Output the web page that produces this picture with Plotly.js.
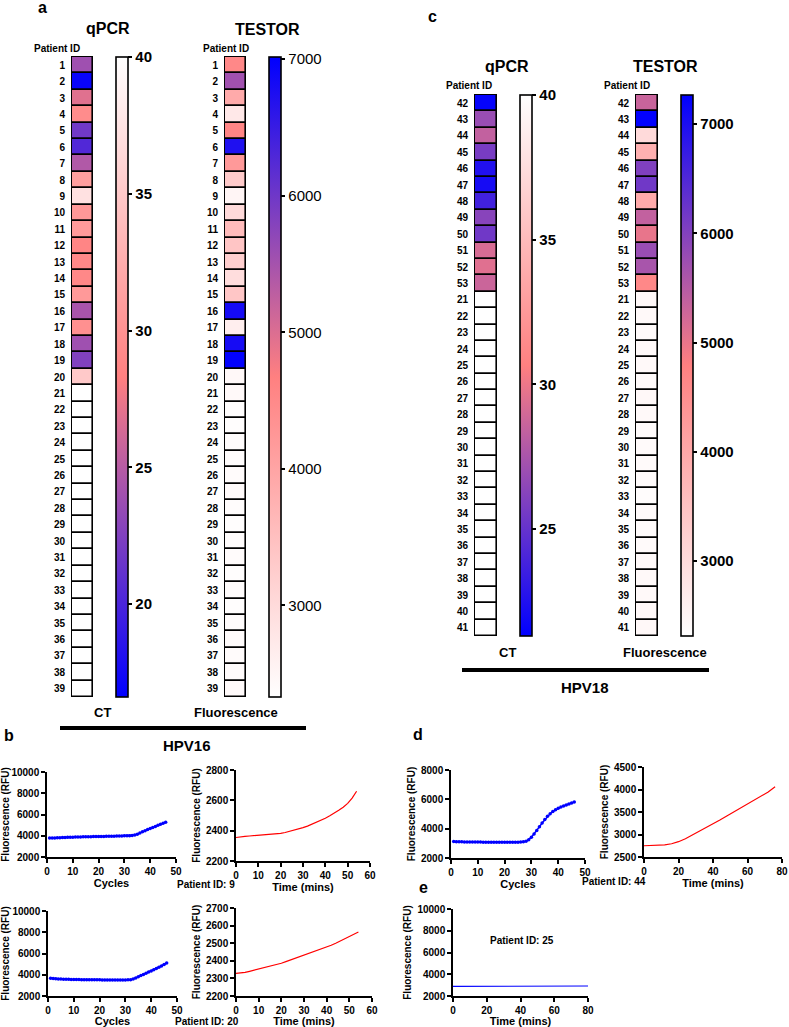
<!DOCTYPE html>
<html><head><meta charset="utf-8">
<script src="https://cdn.plot.ly/plotly-3.0.1.min.js"></script>
<style>html,body{margin:0;padding:0;background:#fff}#chart{width:789px;height:1027px}</style>
</head><body><div id="chart"></div><script>
const W = 789, H = 1027;

// ---- Data: heat map columns ----
const hpv16Ids = ['1','2','3','4','5','6','7','8','9','10','11','12','13','14','15','16','17','18','19','20',
  '21','22','23','24','25','26','27','28','29','30','31','32','33','34','35','36','37','38','39'];
const hpv16Ct = [23.9, 17.0, 26.9, 29.4, 21.8, 20.3, 24.7, 31.2, 37.2, 30.5, 30.7, 28.8, 29.0, 29.0, 30.6, 24.3, 29.8, 23.9, 22.5, 35.0,
  null, null, null, null, null, null, null, null, null, null, null, null, null, null, null, null, null, null, null];
const hpv16Fluor = [4530, 5540, 3900, 2750, 4580, 6730, 4205, 3310, 2520, 3015, 3585, 3400, 3220, 2960, 3380, 6825, 2645, 6810, 7000, 2450,
  2440, 2360, 2370, 2380, 2390, 2400, 2420, 2380, 2370, 2390, 2400, 2360, 2380, 2370, 2390, 2400, 2410, 2400, 2430];

const hpv18Ids = ['42','43','44','45','46','47','48','49','50','51','52','53',
  '21','22','23','24','25','26','27','28','29','30','31','32','33','34','35','36','37','38','39','40','41'];
const hpv18Ct = [21.5, 26.9, 28.4, 25.7, 22.5, 22.1, 23.7, 26.3, 25.4, 29.2, 29.5, 28.7,
  null, null, null, null, null, null, null, null, null, null, null, null, null, null, null, null, null, null, null, null, null];
const hpv18Fluor = [5325, 7250, 3035, 3850, 6025, 6175, 3975, 5385, 5010, 5780, 5630, 4640,
  2450, 2440, 2420, 2430, 2440, 2420, 2450, 2430, 2400, 2420, 2410, 2400, 2380, 2410, 2400, 2420, 2430, 2440, 2430, 2450, 2460];

// colour bar ranges
const ctRange16 = [16.6, 40], fluorRange16 = [2330, 7015];
const ctRange18 = [21.3, 40], fluorRange18 = [2315, 7265];
const ctTicks = [20, 25, 30, 35, 40];
const fluorTicks = [3000, 4000, 5000, 6000, 7000];

// ---- Data: amplification curves ----
const cycles = [1,2,3,4,5,6,7,8,9,10,11,12,13,14,15,16,17,18,19,20,21,22,23,24,25,26,27,28,29,30,
  31,32,33,34,35,36,37,38,39,40,41,42,43,44,45,46];
const pid9Qpcr = [3780,3790,3800,3810,3820,3830,3840,3850,3860,3870,3875,3880,3890,3895,3900,3910,3915,3920,3925,3930,
  3935,3940,3945,3950,3955,3960,3965,3970,3980,3990,4000,4010,4030,4070,4150,4260,4370,4480,4580,4680,4780,4880,4980,5080,5180,5280];
const pid20Qpcr = [3660,3640,3620,3600,3590,3580,3570,3565,3560,3555,3550,3545,3540,3535,3530,3528,3525,3522,3520,3518,
  3516,3515,3514,3513,3512,3511,3510,3510,3510,3512,3520,3540,3600,3700,3810,3920,4030,4140,4250,4360,4470,4590,4710,4830,4960,5100];
const pid44Qpcr = [3120,3110,3105,3100,3095,3090,3088,3086,3085,3084,3083,3082,3081,3080,3080,3079,3078,3078,3077,3077,
  3076,3076,3077,3078,3082,3090,3110,3150,3250,3420,3640,3880,4130,4380,4620,4840,5020,5170,5290,5390,5470,5550,5620,5690,5750,5820];

const minsB = [0,2,4,6,8,10,12,14,16,18,20,22,24,26,28,30,32,34,36,38,40,42,44,46,48,50,52,54];
const pid9Testor = [2355,2360,2362,2365,2367,2368,2370,2374,2378,2380,2382,2388,2395,2402,2410,2420,2430,2442,2455,2468,
  2482,2498,2515,2535,2555,2580,2615,2660];
const pid20Testor = [2328,2330,2334,2340,2346,2352,2358,2366,2374,2380,2386,2395,2404,2413,2422,2431,2440,2449,2458,2467,
  2477,2488,2500,2512,2524,2538,2550,2564];
const minsD = [0,4,8,12,16,20,24,28,32,36,40,44,48,52,56,60,64,68,72,76];
const pid44Testor = [2750,2752,2757,2768,2795,2840,2905,2985,3070,3150,3235,3320,3410,3500,3590,3675,3765,3855,3945,4060];
const minsE = [0,10,20,30,40,50,60,70,80];
const pid25Testor = [2880,2885,2890,2895,2900,2905,2910,2915,2920];

// ---- Helpers ----
const FONT = 'Liberation Sans, Arial, Helvetica, sans-serif';
const ctScale = [[0,[0,0,255]],[0.5,[255,128,128]],[1,[255,255,255]]];
const fluorScale = [[0,[255,255,255]],[0.5,[255,128,128]],[1,[0,0,255]]];
function plotlyScale(s){ return s.map(([t,c]) => [t, 'rgb('+c.join(',')+')']); }
function colourOf(scale, range, v){
  if(v === null) return '#ffffff';
  const t = Math.min(1, Math.max(0, (v-range[0])/(range[1]-range[0])));
  for(let i=1;i<scale.length;i++){
    if(t <= scale[i][0]){
      const [t0,c0] = scale[i-1], [t1,c1] = scale[i];
      const f = (t-t0)/(t1-t0);
      return 'rgb('+c0.map((c,k)=>Math.round(c+(c1[k]-c)*f)).join(',')+')';
    }
  }
  return 'rgb('+scale[scale.length-1][1].join(',')+')';
}
const px = x => x/W;
const py = y => 1 - y/H;

const traces = [];
const layout = {
  width: W, height: H, margin: {l:0, r:0, t:0, b:0},
  paper_bgcolor: '#fff', plot_bgcolor: 'rgba(0,0,0,0)',
  showlegend: false, barmode: 'overlay', bargap: 0,
  font: {family: FONT, color: '#000'},
  annotations: [], shapes: []
};

// one heat map column + its colour bar
function heatColumn(n, ids, vals, scale, range, box, bar, ticks, boldTicks, name){
  const xa = n === 1 ? 'x' : 'x'+n, ya = n === 1 ? 'y' : 'y'+n;
  traces.push({
    type: 'bar', orientation: 'h', xaxis: xa, yaxis: ya,
    y: ids, x: ids.map(() => 1), base: 0, width: 1,
    marker: {color: vals.map(v => colourOf(scale, range, v)), line: {color: '#000', width: 1.6}},
    text: vals.map(v => v === null ? 'n/a' : String(v)), textposition: 'none',
    hovertemplate: 'Patient %{y}<br>'+name+': %{text}<extra></extra>'
  });
  traces.push({
    type: 'scatter', mode: 'markers', xaxis: xa, yaxis: ya, x: [null], y: [null], hoverinfo: 'skip',
    marker: {color: range, cmin: range[0], cmax: range[1], colorscale: plotlyScale(scale), showscale: true,
      colorbar: {x: px(bar.x), xanchor: 'left', xpad: 0, y: py(bar.top), yanchor: 'top', ypad: 0,
        len: bar.len, lenmode: 'pixels', thickness: 12, outlinewidth: 1.6, outlinecolor: '#000',
        tickvals: ticks, tickformat: 'd', ticks: 'outside', ticklen: 4, tickwidth: 1.5, tickcolor: '#000',
        tickfont: {family: FONT, size: 15, weight: boldTicks ? 'bold' : 'normal', color: '#000'}}}
  });
  const e = 0.06;
  layout[n === 1 ? 'xaxis' : 'xaxis'+n] = {domain: [px(box.l), px(box.r)], anchor: ya, range: [-e, 1+e], visible: false, fixedrange: true};
  layout[n === 1 ? 'yaxis' : 'yaxis'+n] = {domain: [py(box.b), py(box.t)], anchor: xa, type: 'category',
    categoryorder: 'array', categoryarray: ids, range: [ids.length-0.5+e, -0.5-e],
    showgrid: false, zeroline: false, showline: false, ticks: '', ticklabelstandoff: 5,
    tickfont: {family: FONT, size: 10, weight: 'bold', color: '#000'}, fixedrange: true};
}

heatColumn(1, hpv16Ids, hpv16Ct, ctScale, ctRange16, {l:71, r:94, t:56, b:698}, {x:116, top:57, len:640}, ctTicks, true, 'CT');
heatColumn(2, hpv16Ids, hpv16Fluor, fluorScale, fluorRange16, {l:224, r:247, t:56, b:698}, {x:269, top:57, len:640}, fluorTicks, false, 'Fluorescence');
heatColumn(3, hpv18Ids, hpv18Ct, ctScale, ctRange18, {l:474, r:498, t:94, b:637}, {x:520, top:95, len:541}, ctTicks, true, 'CT');
heatColumn(4, hpv18Ids, hpv18Fluor, fluorScale, fluorRange18, {l:635, r:659, t:94, b:637}, {x:681, top:95, len:541}, fluorTicks, true, 'Fluorescence');

// text labels
const axFont = {family: FONT, size: 10, weight: 'bold', color: '#000'};
function label(text, x, y, size){
  layout.annotations.push({text: text, x: px(x), y: py(y), xref: 'paper', yref: 'paper', showarrow: false,
    xanchor: 'center', yanchor: 'middle', font: {family: FONT, size: size, weight: 'bold', color: '#000'}});
}

// small line charts
function lineChart(n, box, xs, ys, kind, xr, xdt, yr, ydt, xTitle){
  const xa = 'x'+n, ya = 'y'+n;
  const common = {showline: true, linecolor: '#000', linewidth: 1.5, ticks: 'outside', ticklen: 4, tickwidth: 1.5,
    tickcolor: '#000', showgrid: false, zeroline: false, tickfont: axFont, tickformat: 'd', fixedrange: true};
  layout['xaxis'+n] = Object.assign({domain: [px(box.l), px(box.r)], anchor: ya, range: xr, dtick: xdt,
    title: {text: xTitle, standoff: 0, font: {family: FONT, size: 11, weight: 'bold', color: '#000'}}}, common);
  layout['yaxis'+n] = Object.assign({domain: [py(box.b), py(box.t)], anchor: xa, range: yr, dtick: ydt,
    title: {text: 'Fluorescence (RFU)', standoff: 4, font: axFont}}, common);
  const t = {type: 'scatter', xaxis: xa, yaxis: ya, x: xs, y: ys, cliponaxis: false};
  if(kind === 'qpcr') Object.assign(t, {mode: 'lines+markers', line: {color: '#0000ff', width: 1.5}, marker: {color: '#0000ff', size: 3.5}});
  else if(kind === 'testor') Object.assign(t, {mode: 'lines', line: {color: '#ff0000', width: 1.2}});
  else Object.assign(t, {mode: 'lines', line: {color: '#0000ff', width: 1.2}});
  traces.push(t);
}

lineChart(5, {l:47, r:176, t:772, b:857}, cycles, pid9Qpcr, 'qpcr', [0,50], 10, [2000,10000], 2000, 'Cycles');
lineChart(6, {l:236, r:370, t:770, b:861}, minsB, pid9Testor, 'testor', [0,60], 10, [2200,2800], 200, 'Time (mins)');
lineChart(7, {l:48, r:177, t:911, b:996}, cycles, pid20Qpcr, 'qpcr', [0,50], 10, [2000,10000], 2000, 'Cycles');
lineChart(8, {l:236, r:372, t:908, b:996}, minsB, pid20Testor, 'testor', [0,60], 10, [2200,2700], 100, 'Time (mins)');
lineChart(9, {l:451, r:585, t:770, b:858}, cycles, pid44Qpcr, 'qpcr', [0,50], 10, [2000,8000], 2000, 'Cycles');
lineChart(10, {l:644, r:782, t:767, b:857}, minsD, pid44Testor, 'testor', [0,80], 20, [2500,4500], 500, 'Time (mins)');
lineChart(11, {l:453, r:588, t:909, b:996}, minsE, pid25Testor, 'flat', [0,80], 20, [2000,10000], 2000, 'Time (mins)');

label('a', 42, 7, 16); label('c', 433, 16, 16); label('b', 9, 735, 16); label('d', 418, 734, 16); label('e', 423, 887, 16);
label('qPCR', 108, 29, 16); label('TESTOR', 267, 30, 16); label('qPCR', 507, 67, 16); label('TESTOR', 665, 67, 16);
label('Patient ID', 57, 49, 10); label('Patient ID', 226, 49, 10); label('Patient ID', 469, 86, 10); label('Patient ID', 627, 86, 10);
label('CT', 103, 712, 13); label('Fluorescence', 236, 712, 13); label('CT', 507, 652, 13); label('Fluorescence', 665, 652, 13);
label('HPV16', 187, 745, 15); label('HPV18', 585, 687, 15);
label('Patient ID: 9', 206, 884, 10); label('Patient ID: 20', 207, 1021, 10);
label('Patient ID: 44', 614, 881, 10); label('Patient ID: 25', 522, 940, 10);

layout.shapes.push({type: 'line', xref: 'paper', yref: 'paper', x0: px(60), x1: px(306), y0: py(728), y1: py(728), line: {color: '#000', width: 4}});
layout.shapes.push({type: 'line', xref: 'paper', yref: 'paper', x0: px(462), x1: px(709), y0: py(670), y1: py(670), line: {color: '#000', width: 4}});

Plotly.newPlot('chart', traces, layout, {displayModeBar: false, responsive: false});
</script></body></html>
